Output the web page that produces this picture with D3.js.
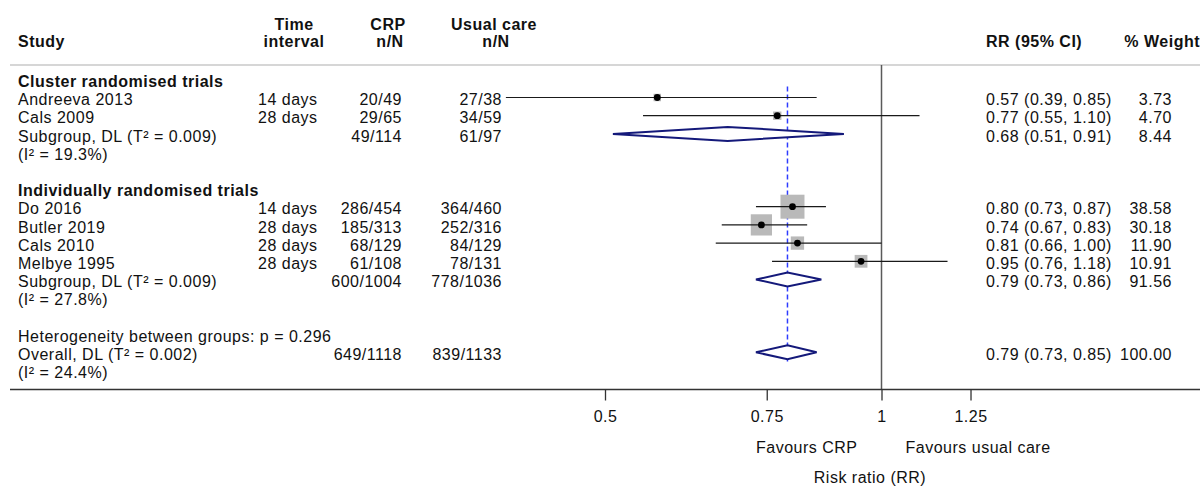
<!DOCTYPE html>
<html>
<head>
<meta charset="utf-8">
<script src="https://cdn.jsdelivr.net/npm/d3@7"></script>
<style>
    body { margin: 0; background: #fff; }
    text { font-family: "Liberation Sans", Arial, sans-serif; font-size: 16px; letter-spacing: 0.5px; fill: #111; }
    .bold { font-weight: bold; }
</style>
</head>
<body>
<div id="chart-area"></div>
<script>
// studies
var studies = ["Andreeva 2013", "Cals 2009", "Do 2016", "Butler 2019", "Cals 2010", "Melbye 1995"];
var intervals = ["14 days", "28 days", "14 days", "28 days", "28 days", "28 days"];
var crpN = ["20/49", "29/65", "286/454", "185/313", "68/129", "61/108"];
var usualN = ["27/38", "34/59", "364/460", "252/316", "84/129", "78/131"];
var rr = [0.57, 0.77, 0.80, 0.74, 0.81, 0.95];
var rrLow = [0.39, 0.55, 0.73, 0.67, 0.66, 0.76];
var rrHigh = [0.85, 1.10, 0.87, 0.83, 1.00, 1.18];
var weights = [3.73, 4.70, 38.58, 30.18, 11.90, 10.91];
var studyRows = [1, 2, 7, 8, 9, 10];

// pooled estimates (two subgroups + overall)
var poolLabels = ["Subgroup, DL (T\u00b2 = 0.009)", "Subgroup, DL (T\u00b2 = 0.009)", "Overall, DL (T\u00b2 = 0.002)"];
var poolI2 = ["(I\u00b2 = 19.3%)", "(I\u00b2 = 27.8%)", "(I\u00b2 = 24.4%)"];
var poolCrp = ["49/114", "600/1004", "649/1118"];
var poolUsual = ["61/97", "778/1036", "839/1133"];
var poolRR = [0.68, 0.79, 0.79];
var poolLow = [0.51, 0.73, 0.73];
var poolHigh = [0.91, 0.86, 0.85];
var poolWeights = [8.44, 91.56, 100.00];
var poolRows = [3, 11, 15];

var groupLabels = ["Cluster randomised trials", "Individually randomised trials"];
var groupRows = [0, 6];
var hetText = "Heterogeneity between groups: p = 0.296";
var hetRow = 14;

var tickValues = [0.5, 0.75, 1, 1.25];
var overallRR = 0.79;

var width = 1203, height = 486;

var svg = d3.select("#chart-area")
    .append("svg")
    .attr("width", width)
    .attr("height", height);

svg.append("rect").attr("width", width).attr("height", height).attr("fill", "#fff");

// Scales
var x = d3.scaleLog()
    .domain([0.5, 1])
    .range([605, 881.5]);

var y = d3.scaleLinear()
    .domain([0, 15])
    .range([79.3, 352.3]);

var size = d3.scaleSqrt()
    .domain([0, 38.58])
    .range([0, 24]);

var base = 7.7; // text baseline below row centre

// column positions
var colStudy = 18, colTime = 258, colCrp = 402, colUsual = 502, colRR = 986, colW = 1172;

// header
var head = svg.append("g");
head.append("text").attr("class", "bold").attr("x", colStudy).attr("y", 47).text("Study");
head.append("text").attr("class", "bold").attr("x", 294).attr("y", 30).attr("text-anchor", "middle").text("Time");
head.append("text").attr("class", "bold").attr("x", 294).attr("y", 47).attr("text-anchor", "middle").text("interval");
head.append("text").attr("class", "bold").attr("x", 388).attr("y", 30).attr("text-anchor", "middle").text("CRP");
head.append("text").attr("class", "bold").attr("x", 390).attr("y", 47).attr("text-anchor", "middle").text("n/N");
head.append("text").attr("class", "bold").attr("x", 494).attr("y", 30).attr("text-anchor", "middle").text("Usual care");
head.append("text").attr("class", "bold").attr("x", 496).attr("y", 47).attr("text-anchor", "middle").text("n/N");
head.append("text").attr("class", "bold").attr("x", colRR).attr("y", 47).text("RR (95% CI)");
head.append("text").attr("class", "bold").attr("x", 1200).attr("y", 47).attr("text-anchor", "end").text("% Weight");

svg.append("line")
    .attr("x1", 10).attr("x2", 1200)
    .attr("y1", 65).attr("y2", 65)
    .attr("stroke", "#c8c8c8").attr("stroke-width", 1.5);

// null line
svg.append("line")
    .attr("x1", x(1)).attr("x2", x(1))
    .attr("y1", 65).attr("y2", 389.5)
    .attr("stroke", "#5a5a5a").attr("stroke-width", 1.5);

// overall effect line
svg.append("line")
    .attr("x1", x(overallRR)).attr("x2", x(overallRR))
    .attr("y1", y(0.4)).attr("y2", y(15.5))
    .attr("stroke", "#2e3cff").attr("stroke-width", 1.5)
    .attr("stroke-dasharray", "5,3");

// group headings
svg.selectAll(".group")
    .data(groupLabels)
    .enter().append("text")
    .attr("class", "bold")
    .attr("x", colStudy)
    .attr("y", function(d, i) { return y(groupRows[i]) + base; })
    .text(function(d) { return d; });

svg.append("text")
    .attr("x", colStudy)
    .attr("y", y(hetRow) + base)
    .text(hetText);

// study rows
var rows = svg.selectAll(".study")
    .data(studies)
    .enter().append("g")
    .attr("class", "study")
    .attr("transform", function(d, i) { return "translate(0," + y(studyRows[i]) + ")"; });

rows.append("text").attr("x", colStudy).attr("y", base).text(function(d) { return d; });
rows.append("text").attr("x", colTime).attr("y", base).text(function(d, i) { return intervals[i]; });
rows.append("text").attr("x", colCrp).attr("y", base).attr("text-anchor", "end").text(function(d, i) { return crpN[i]; });
rows.append("text").attr("x", colUsual).attr("y", base).attr("text-anchor", "end").text(function(d, i) { return usualN[i]; });
rows.append("text").attr("x", colRR).attr("y", base)
    .text(function(d, i) { return rr[i].toFixed(2) + " (" + rrLow[i].toFixed(2) + ", " + rrHigh[i].toFixed(2) + ")"; });
rows.append("text").attr("x", colW).attr("y", base).attr("text-anchor", "end").text(function(d, i) { return weights[i].toFixed(2); });

rows.append("rect")
    .attr("x", function(d, i) { return x(rr[i]) - size(weights[i]) / 2; })
    .attr("y", function(d, i) { return -size(weights[i]) / 2; })
    .attr("width", function(d, i) { return size(weights[i]); })
    .attr("height", function(d, i) { return size(weights[i]); })
    .attr("fill", "#b9b9b9");

rows.append("line")
    .attr("x1", function(d, i) { return x(rrLow[i]); })
    .attr("x2", function(d, i) { return x(rrHigh[i]); })
    .attr("stroke", "#1a1a1a").attr("stroke-width", 1.2);

rows.append("circle")
    .attr("cx", function(d, i) { return x(rr[i]); })
    .attr("r", 3.4)
    .attr("fill", "#000");

// pooled rows
var pools = svg.selectAll(".pool")
    .data(poolLabels)
    .enter().append("g")
    .attr("class", "pool")
    .attr("transform", function(d, i) { return "translate(0," + y(poolRows[i]) + ")"; });

pools.append("text").attr("x", colStudy).attr("y", base).text(function(d) { return d; });
pools.append("text").attr("x", colStudy).attr("y", base + y(1) - y(0)).text(function(d, i) { return poolI2[i]; });
pools.append("text").attr("x", colCrp).attr("y", base).attr("text-anchor", "end").text(function(d, i) { return poolCrp[i]; });
pools.append("text").attr("x", colUsual).attr("y", base).attr("text-anchor", "end").text(function(d, i) { return poolUsual[i]; });
pools.append("text").attr("x", colRR).attr("y", base)
    .text(function(d, i) { return poolRR[i].toFixed(2) + " (" + poolLow[i].toFixed(2) + ", " + poolHigh[i].toFixed(2) + ")"; });
pools.append("text").attr("x", colW).attr("y", base).attr("text-anchor", "end").text(function(d, i) { return poolWeights[i].toFixed(2); });

pools.append("path")
    .attr("d", function(d, i) {
        var h = 7;
        return "M" + x(poolLow[i]) + ",0L" + x(poolRR[i]) + "," + (-h) +
            "L" + x(poolHigh[i]) + ",0L" + x(poolRR[i]) + "," + h + "Z";
    })
    .attr("fill", "#fff")
    .attr("stroke", "#14197a")
    .attr("stroke-width", 2);

// axis
svg.append("line")
    .attr("x1", 10).attr("x2", 1200)
    .attr("y1", 389.5).attr("y2", 389.5)
    .attr("stroke", "#333").attr("stroke-width", 1.5);

var xAxis = svg.append("g")
    .attr("transform", "translate(0,389.5)")
    .call(d3.axisBottom(x).tickValues(tickValues).tickSize(11).tickPadding(10)
        .tickFormat(function(d) { return String(d); }));
xAxis.select(".domain").remove();
xAxis.selectAll(".tick line").attr("stroke", "#333").attr("stroke-width", 1.3);
xAxis.selectAll(".tick text")
    .attr("fill", "#111")
    .style("font-family", "\"Liberation Sans\", Arial, sans-serif")
    .style("font-size", "16px");

svg.append("text")
    .attr("x", x(1) - 24).attr("y", 453)
    .attr("text-anchor", "end")
    .text("Favours CRP");
svg.append("text")
    .attr("x", x(1) + 24).attr("y", 453)
    .text("Favours usual care");
svg.append("text")
    .attr("x", 870).attr("y", 483)
    .attr("text-anchor", "middle")
    .text("Risk ratio (RR)");
</script>
